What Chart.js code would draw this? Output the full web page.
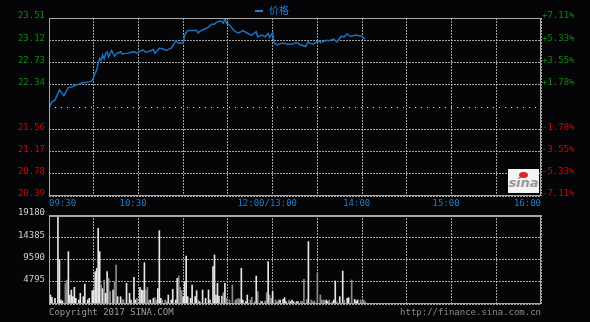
<!DOCTYPE html>
<html>
<head>
<meta charset="utf-8">
<script src="https://cdn.jsdelivr.net/npm/chart.js@4.4.0/dist/chart.umd.min.js"></script>
<style>
  html, body { margin: 0; padding: 0; background: #050407; }
  #wrap { position: relative; width: 590px; height: 322px; overflow: hidden; font-family: "DejaVu Sans Mono", monospace; font-size: 9px; }
  canvas { position: absolute; left: 0; }
  #priceChart { top: 0; }
  #volChart { top: 200px; }
  .legend { position: absolute; left: 255px; top: 1px; color: #1a7fd0; font: 10px "Noto Sans CJK SC"; line-height: 18px; }
  .legend i { display: inline-block; width: 8px; height: 2px; background: #1a7fd0; vertical-align: middle; margin-right: 6px; }
  .copy { position: absolute; left: 49px; top: 307px; color: #9a9a9a; }
  .url { position: absolute; right: 49px; top: 307px; color: #8a8a8a; }
  .logo { position: absolute; left: 508px; top: 169px; width: 31px; height: 24px; background: #f4f4f4; color: #9a9a9a; font: italic bold 13px "DejaVu Sans"; line-height: 28px; text-align: center; }
  .logo b { position: absolute; left: 11px; top: 3px; width: 9px; height: 6px; border-radius: 50%; background: #d8282a; }
</style>
</head>
<body>
<div id="wrap">
  <canvas id="priceChart" width="590" height="212"></canvas>
  <canvas id="volChart" width="590" height="122"></canvas>
  <div class="legend"><i></i>价格</div>
  <div class="logo"><b></b>sina</div>
  <div class="copy">Copyright 2017 SINA.COM</div>
  <div class="url">http://finance.sina.com.cn</div>
</div>
<script>
// Axis values
const prevClose = 21.95;
const priceTicks = [20.39, 20.78, 21.17, 21.56, 21.95, 22.34, 22.73, 23.12, 23.51];
const pctTicks = [-7.11, -5.33, -3.55, -1.78, 0, 1.78, 3.55, 5.33, 7.11];
const volTicks = [0, 4795, 9590, 14385, 19180];
// minutes since 09:30 (lunch break folded, 12:00 and 13:00 share one slot)
const timeTicks = [0, 30, 60, 90, 120, 150, 180, 210, 240, 270, 300, 330];
const timeLabels = { 0: '09:30', 60: '10:30', 150: '12:00/13:00', 210: '14:00', 270: '15:00', 330: '16:00' };

// Price line
const priceMinutes = [0, 2, 4, 7, 10, 13, 16, 17, 20, 23, 25, 27, 29, 30, 32, 33, 34, 35, 36, 37,
  38, 39, 40, 42, 44, 46, 47, 48, 49, 52, 57, 59, 61, 63, 65, 68, 70, 71, 73, 74,
  76, 79, 80, 82, 85, 87, 90, 91, 93, 96, 99, 100, 101, 103, 107, 109, 111, 112, 115, 117,
  118, 119, 121, 124, 125, 127, 129, 130, 134, 136, 139, 140, 143, 145, 147, 148, 150, 151, 153, 155,
  157, 160, 162, 164, 166, 168, 172, 174, 175, 177, 181, 182, 186, 188, 191, 193, 194, 196, 198, 200,
  202, 204, 206, 208, 210, 211, 212];
const prices = [21.93, 22.04, 22.07, 22.25, 22.15, 22.29, 22.31, 22.32, 22.35, 22.38, 22.38, 22.39, 22.41, 22.48, 22.60, 22.72, 22.80, 22.77, 22.86, 22.79,
  22.89, 22.92, 22.83, 22.94, 22.84, 22.90, 22.90, 22.92, 22.88, 22.89, 22.92, 22.89, 22.93, 22.95, 22.91, 22.93, 22.96, 22.89, 22.95, 22.98,
  22.97, 22.94, 22.96, 22.98, 23.11, 23.07, 23.07, 23.21, 23.29, 23.29, 23.29, 23.25, 23.27, 23.30, 23.35, 23.40, 23.40, 23.43, 23.46, 23.42,
  23.51, 23.42, 23.39, 23.29, 23.27, 23.25, 23.27, 23.29, 23.23, 23.21, 23.27, 23.18, 23.21, 23.18, 23.24, 23.17, 23.25, 23.07, 23.04, 23.06,
  23.07, 23.05, 23.05, 23.06, 23.08, 23.05, 23.01, 23.09, 23.07, 23.05, 23.11, 23.08, 23.12, 23.11, 23.14, 23.09, 23.12, 23.19, 23.18, 23.23,
  23.19, 23.20, 23.21, 23.20, 23.19, 23.16, 23.14];

// Volume bars
const volMinutes = [1, 2, 4, 6, 7, 8, 9, 11, 12, 13, 14, 15, 16, 17, 18, 20, 21, 23, 24, 26,
  27, 29, 30, 31, 32, 33, 34, 35, 36, 37, 38, 39, 40, 41, 43, 44, 45, 46, 48, 49,
  50, 52, 54, 55, 57, 58, 59, 61, 62, 63, 64, 65, 66, 67, 68, 70, 71, 72, 73, 74,
  75, 76, 78, 79, 80, 82, 83, 85, 86, 87, 88, 89, 90, 91, 92, 93, 95, 96, 98, 99,
  100, 101, 103, 105, 107, 108, 110, 111, 112, 113, 114, 116, 117, 118, 119, 121, 123, 125, 126, 127,
  128, 129, 130, 132, 133, 135, 136, 138, 139, 140, 142, 143, 145, 146, 147, 148, 149, 150, 152, 153,
  154, 155, 157, 158, 159, 161, 162, 163, 164, 166, 167, 169, 170, 171, 173, 174, 176, 177, 178, 180,
  182, 183, 184, 185, 186, 187, 188, 190, 191, 192, 193, 195, 197, 198, 200, 201, 203, 205, 206, 207,
  209, 210, 211, 212];
const volumes = [1940, 1440, 1220, 19180, 9600, 860, 650, 4450, 5170, 11280, 1940, 3000, 1580, 3600, 1220, 860, 2300, 1580, 4300, 860,
  1220, 2870, 3020, 6970, 7690, 16300, 11280, 4100, 3300, 5170, 2300, 6970, 5530, 2660, 3020, 4810, 8400, 1580, 1580, 1000,
  860, 4450, 2300, 860, 5750, 860, 1220, 3600, 3020, 2870, 8900, 3020, 3600, 860, 860, 1220, 1370, 860, 3300, 15800,
  1220, 860, 860, 500, 1940, 860, 3160, 860, 5530, 6030, 3600, 2870, 1580, 4810, 10340, 1580, 1220, 4100, 1580, 2870,
  860, 500, 3020, 1220, 3020, 860, 8050, 10560, 1940, 4450, 1730, 1730, 2440, 4450, 1220, 860, 4100, 860, 1000, 1220,
  1000, 7690, 860, 500, 1940, 860, 1440, 500, 6030, 2660, 650, 500, 650, 2440, 9120, 1940, 1220, 2660, 860, 500,
  860, 860, 1000, 1370, 500, 860, 500, 860, 500, 500, 500, 650, 500, 5320, 1000, 13430, 860, 500, 650, 6600,
  1940, 860, 860, 720, 860, 500, 860, 500, 860, 4960, 500, 1580, 7110, 860, 1220, 1370, 5170, 1000, 650, 860,
  860, 500, 860, 500];

const fontMono = { family: '"DejaVu Sans Mono", monospace', size: 9 };
const green = '#0b8a0b', red = '#dd0000', blue = '#1a7fd0';
const gridColor = 'rgba(190,190,190,0.85)';

// bar colour follows the last price move before that minute
function upAt(m) {
  let i = 0;
  while (i + 1 < priceMinutes.length && priceMinutes[i + 1] <= m) i++;
  return i === 0 || prices[i] >= prices[i - 1];
}

const frame = {
  id: 'frame',
  afterDraw(chart, args, opts) {
    const { ctx, chartArea: a } = chart;
    ctx.save();
    ctx.strokeStyle = '#a8a8a8';
    ctx.lineWidth = 1;
    ctx.strokeRect(a.left + 0.5, a.top + 0.5, a.right - a.left - 1, a.bottom - a.top - 1);
    if (opts.thickTop) {
      ctx.beginPath();
      ctx.moveTo(a.left, a.top + 1.5);
      ctx.lineTo(a.right, a.top + 1.5);
      ctx.stroke();
    }
    ctx.restore();
  }
};

function fixTicks(list) {
  return (axis) => { axis.ticks = list.map(v => ({ value: v })); };
}

const isZero = (c) => c.tick && c.tick.value === prevClose;

new Chart(document.getElementById('priceChart'), {
  type: 'line',
  data: {
    datasets: [{
      label: '价格',
      data: priceMinutes.map((m, i) => ({ x: m, y: prices[i] })),
      borderColor: '#1b72bd',
      borderWidth: 1.5,
      pointRadius: 0,
      tension: 0
    }]
  },
  options: {
    responsive: false,
    animation: false,
    layout: { padding: { top: 18, left: 0, right: 0, bottom: 0 } },
    plugins: { legend: { display: false }, tooltip: { enabled: false }, frame: {} },
    scales: {
      x: {
        type: 'linear', min: 0, max: 330,
        afterBuildTicks: fixTicks(timeTicks),
        afterFit: (axis) => { axis.height = 16; },
        grid: { color: gridColor, drawTicks: false },
        border: { display: false, dash: [2, 1] },
        ticks: {
          autoSkip: false, maxRotation: 0, align: 'inner', padding: 2,
          color: blue, font: fontMono,
          callback: (v, i) => {
            const t = timeLabels[v] || '';
            return (i === 0 || i === timeTicks.length - 1 || !t) ? t : t + '  ';
          }
        }
      },
      y: {
        position: 'left', min: 20.39, max: 23.51,
        afterBuildTicks: fixTicks(priceTicks),
        afterFit: (axis) => { axis.width = 49; },
        grid: { color: (c) => isZero(c) ? '#e0e0e0' : gridColor, drawTicks: false },
        border: { display: false, dash: (c) => isZero(c) ? [1, 5] : [2, 1] },
        ticks: {
          padding: 4, labelOffset: -2, font: fontMono,
          color: (c) => c.tick.value >= prevClose ? green : red,
          callback: (v) => v === prevClose ? '' : v.toFixed(2)
        }
      },
      pct: {
        position: 'right', min: -7.11, max: 7.11,
        afterBuildTicks: fixTicks(pctTicks),
        afterFit: (axis) => { axis.width = 49; },
        grid: { display: false, drawTicks: false },
        border: { display: false },
        ticks: {
          padding: 1, labelOffset: -2, font: fontMono,
          color: (c) => c.tick.value >= 0 ? green : red,
          callback: (v) => v === 0 ? '' : (v > 0 ? '+' : '') + v.toFixed(2) + '%'
        }
      }
    }
  },
  plugins: [frame]
});

new Chart(document.getElementById('volChart'), {
  type: 'bar',
  data: {
    datasets: [{
      label: '成交量',
      data: volMinutes.map((m, i) => ({ x: m, y: volumes[i] })),
      backgroundColor: volMinutes.map(m => upAt(m) ? '#e6e6e6' : '#8c8c8c'),
      barThickness: 1,
      borderWidth: 0
    }]
  },
  options: {
    responsive: false,
    animation: false,
    layout: { padding: { top: 15, left: 0, right: 49, bottom: 0 } },
    plugins: { legend: { display: false }, tooltip: { enabled: false }, frame: { thickTop: true } },
    scales: {
      x: {
        type: 'linear', min: 0, max: 330, offset: false,
        afterBuildTicks: fixTicks(timeTicks),
        afterFit: (axis) => { axis.height = 18; },
        grid: { color: gridColor, drawTicks: false, offset: false },
        border: { display: false, dash: [2, 1] },
        ticks: { display: false }
      },
      y: {
        min: 0, max: 19180,
        afterBuildTicks: fixTicks(volTicks),
        afterFit: (axis) => { axis.width = 49; },
        grid: { color: gridColor, drawTicks: false },
        border: { display: false, dash: [2, 1] },
        ticks: {
          padding: 4, labelOffset: -2, font: fontMono, color: '#d0d0d0',
          callback: (v) => v === 0 ? '' : String(v)
        }
      }
    }
  },
  plugins: [frame]
});
</script>
</body>
</html>
